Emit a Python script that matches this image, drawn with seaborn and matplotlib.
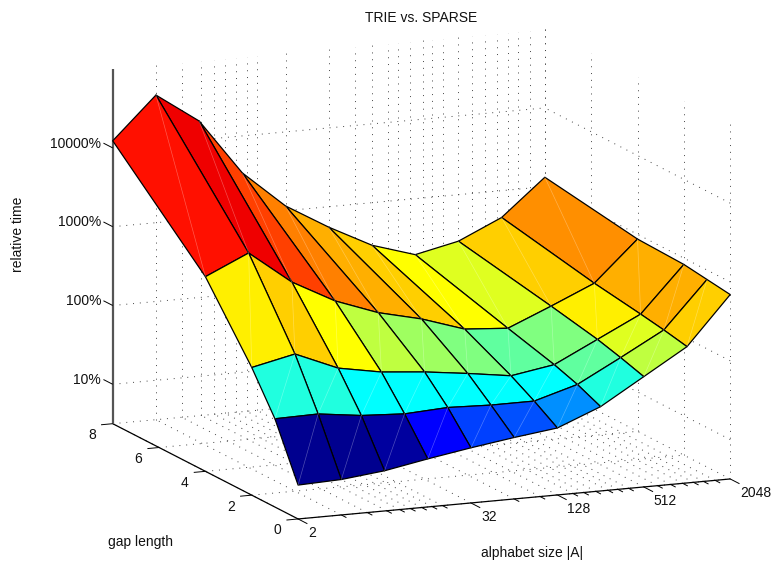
import numpy as np
import matplotlib
matplotlib.use("Agg")
import matplotlib.pyplot as plt
import seaborn as sns
from mpl_toolkits.mplot3d import proj3d

# log2 of alphabet size, gap lengths
log_alphabet = [1, 2, 3, 4, 5, 6, 7, 8, 9, 10, 11]
gap_lengths = [0, 1, 2, 4, 8]

# log10 of relative time (percent), one row per gap length
time_gap0 = [0.93, 0.95, 1.01, 1.11, 1.20, 1.28, 1.35, 1.57, 1.90, 2.23, 2.84]
time_gap1 = [1.62, 1.63, 1.56, 1.53, 1.56, 1.54, 1.54, 1.70, 1.99, 2.29, 2.88]
time_gap2 = [2.12, 2.24, 2.01, 1.91, 1.86, 1.79, 1.71, 1.80, 2.07, 2.34, 2.92]
time_gap4 = [2.97, 3.22, 2.80, 2.51, 2.31, 2.18, 2.00, 1.96, 2.19, 2.43, 2.94]
time_gap8 = [4.09, 4.62, 4.24, 3.53, 3.06, 2.74, 2.46, 2.29, 2.41, 2.66, 3.12]

# colour index (1-64 of jet) of each face
faces_gap0 = [1, 1, 2, 8, 12, 13, 17, 26, 36, 43]
faces_gap1 = [26, 26, 24, 24, 24, 24, 24, 30, 38, 45]
faces_gap2 = [41, 43, 40, 36, 34, 32, 30, 32, 41, 45]
faces_gap4 = [55, 57, 52, 48, 45, 43, 40, 38, 43, 47]

# tick labels
x_major = [1, 5, 7, 9, 11]
x_major_labels = ["2", "32", "128", "512", "2048"]
x_minor = [2, 2.6, 3.05, 3.35, 3.6, 3.86, 4.1, 4.34, 6, 6.6,
           7.36, 7.61, 7.89, 8.17, 8.4, 8.65, 9.32, 9.62, 9.9, 10.15, 10.38, 10.65]
y_ticks = [0, 2, 4, 6, 8]
z_ticks = [1, 2, 3, 4]
z_labels = ["10%", "100%", "1000%", "10000%"]

XMIN, XMAX = 1, 11
YMIN, YMAX = 0, 8
ZMIN, ZMAX = 0.5, 5


def matlabJet(n=64):
    x = np.arange(1, n + 1) / n
    rgb = [np.clip(1.5 - np.abs(4 * x - c), 0, 1) for c in (3, 2, 1)]
    return sns.color_palette(list(zip(*rgb)), n)


def dotted(ax, xs, ys, zs):
    ax.plot(xs, ys, zs, color="#444444", lw=0.7, ls=(0, (1, 6)), zorder=1)


def solid(ax, xs, ys, zs, lw=0.9, color="black"):
    ax.plot(xs, ys, zs, color=color, lw=lw, zorder=1.5, solid_capstyle="butt")


# tick label at a 3d position, kept as plain 2d text
def label3d(ax, x, y, z, text, ha):
    px, py, _ = proj3d.proj_transform(x, y, z, ax.get_proj())
    ax.text2D(px, py, text, ha=ha, va="center", color="#111111", transform=ax.transData)


sns.set_theme(style="white")
plt.rcParams["font.family"] = ["Liberation Sans", "DejaVu Sans"]
plt.rcParams["font.size"] = 10

fig = plt.figure(figsize=(7.74, 5.66), dpi=100)
side = 737.7
cx, cy = 411.5, 284
ax = fig.add_axes([(cx - side / 2) / 774, (566 - cy - side / 2) / 566, side / 774, side / 566],
                  projection="3d", computed_zorder=False)
ax.set_proj_type("ortho")
ax.view_init(elev=12.6, azim=-113)
ax.set_xlim(XMIN, XMAX, view_margin=0)
ax.set_ylim(YMIN, YMAX, view_margin=0)
ax.set_zlim(ZMIN, ZMAX, view_margin=0)
ax.set_box_aspect((469, 474, 363), zoom=1.0)
ax.set_axis_off()
ax.patch.set_alpha(0)

# dotted grid on the floor and on the two back walls
for x in x_major + x_minor:
    dotted(ax, [x, x], [YMIN, YMAX], [ZMIN, ZMIN])
    dotted(ax, [x, x], [YMAX, YMAX], [ZMIN, ZMAX])
for y in y_ticks:
    dotted(ax, [XMIN, XMAX], [y, y], [ZMIN, ZMIN])
    dotted(ax, [XMAX, XMAX], [y, y], [ZMIN, ZMAX])
for z in z_ticks:
    dotted(ax, [XMIN, XMAX], [YMAX, YMAX], [z, z])
    dotted(ax, [XMAX, XMAX], [YMIN, YMAX], [z, z])

# axis lines
solid(ax, [XMIN, XMAX], [YMIN, YMIN], [ZMIN, ZMIN])
solid(ax, [XMIN, XMIN], [YMIN, YMAX], [ZMIN, ZMIN])
solid(ax, [XMIN, XMIN], [YMAX, YMAX], [ZMIN, ZMAX], lw=1.6, color="#555555")

# ticks and tick labels
for x, label in zip(x_major, x_major_labels):
    solid(ax, [x, x], [YMIN, YMIN - 0.4], [ZMIN, ZMIN], lw=0.7)
    label3d(ax, x, YMIN - 0.43, ZMIN - 0.11, label, "left")
for x in x_minor:
    solid(ax, [x, x], [YMIN, YMIN - 0.22], [ZMIN, ZMIN], lw=0.7)
for y in y_ticks:
    solid(ax, [XMIN, XMIN - 0.27], [y, y], [ZMIN, ZMIN], lw=0.7)
    label3d(ax, XMIN - 0.48, y, ZMIN - 0.12, str(y), "center")
for z, label in zip(z_ticks, z_labels):
    solid(ax, [XMIN, XMIN], [YMAX, YMAX + 0.4], [z, z], lw=0.7)
    label3d(ax, XMIN, YMAX + 0.5, z - 0.02, label, "right")

# the surface
Z = np.array([time_gap0, time_gap1, time_gap2, time_gap4, time_gap8])
X, Y = np.meshgrid(log_alphabet, gap_lengths)
palette = np.array(matlabJet())
levels = np.array([faces_gap0, faces_gap1, faces_gap2, faces_gap4])
face_rgb = np.dstack([palette[levels - 1], np.ones(levels.shape)])
surf = ax.plot_surface(X, Y, Z, facecolors=face_rgb, rstride=1, cstride=1, shade=False,
                       linewidth=0.9, antialiased=True, zorder=2)
surf.set_edgecolor("black")

# faint seams across each face
for r in range(levels.shape[0]):
    for c in range(levels.shape[1]):
        ax.plot([X[r, c], X[r + 1, c + 1]], [Y[r, c], Y[r + 1, c + 1]], [Z[r, c], Z[r + 1, c + 1]],
                color="white", lw=0.5, alpha=0.3, zorder=3)

fig.text(421 / 774, 1 - 18 / 566, "TRIE vs. SPARSE", ha="center", va="center", color="#111111")
fig.text(18 / 774, 1 - 234 / 566, "relative time", rotation=90, ha="center", va="center", color="#111111")
fig.text(141 / 774, 1 - 542 / 566, "gap length", ha="center", va="center", color="#111111")
fig.text(532 / 774, 1 - 553 / 566, "alphabet size |A|", ha="center", va="center", color="#111111")

fig.savefig("out.png", dpi=100, facecolor="white")
